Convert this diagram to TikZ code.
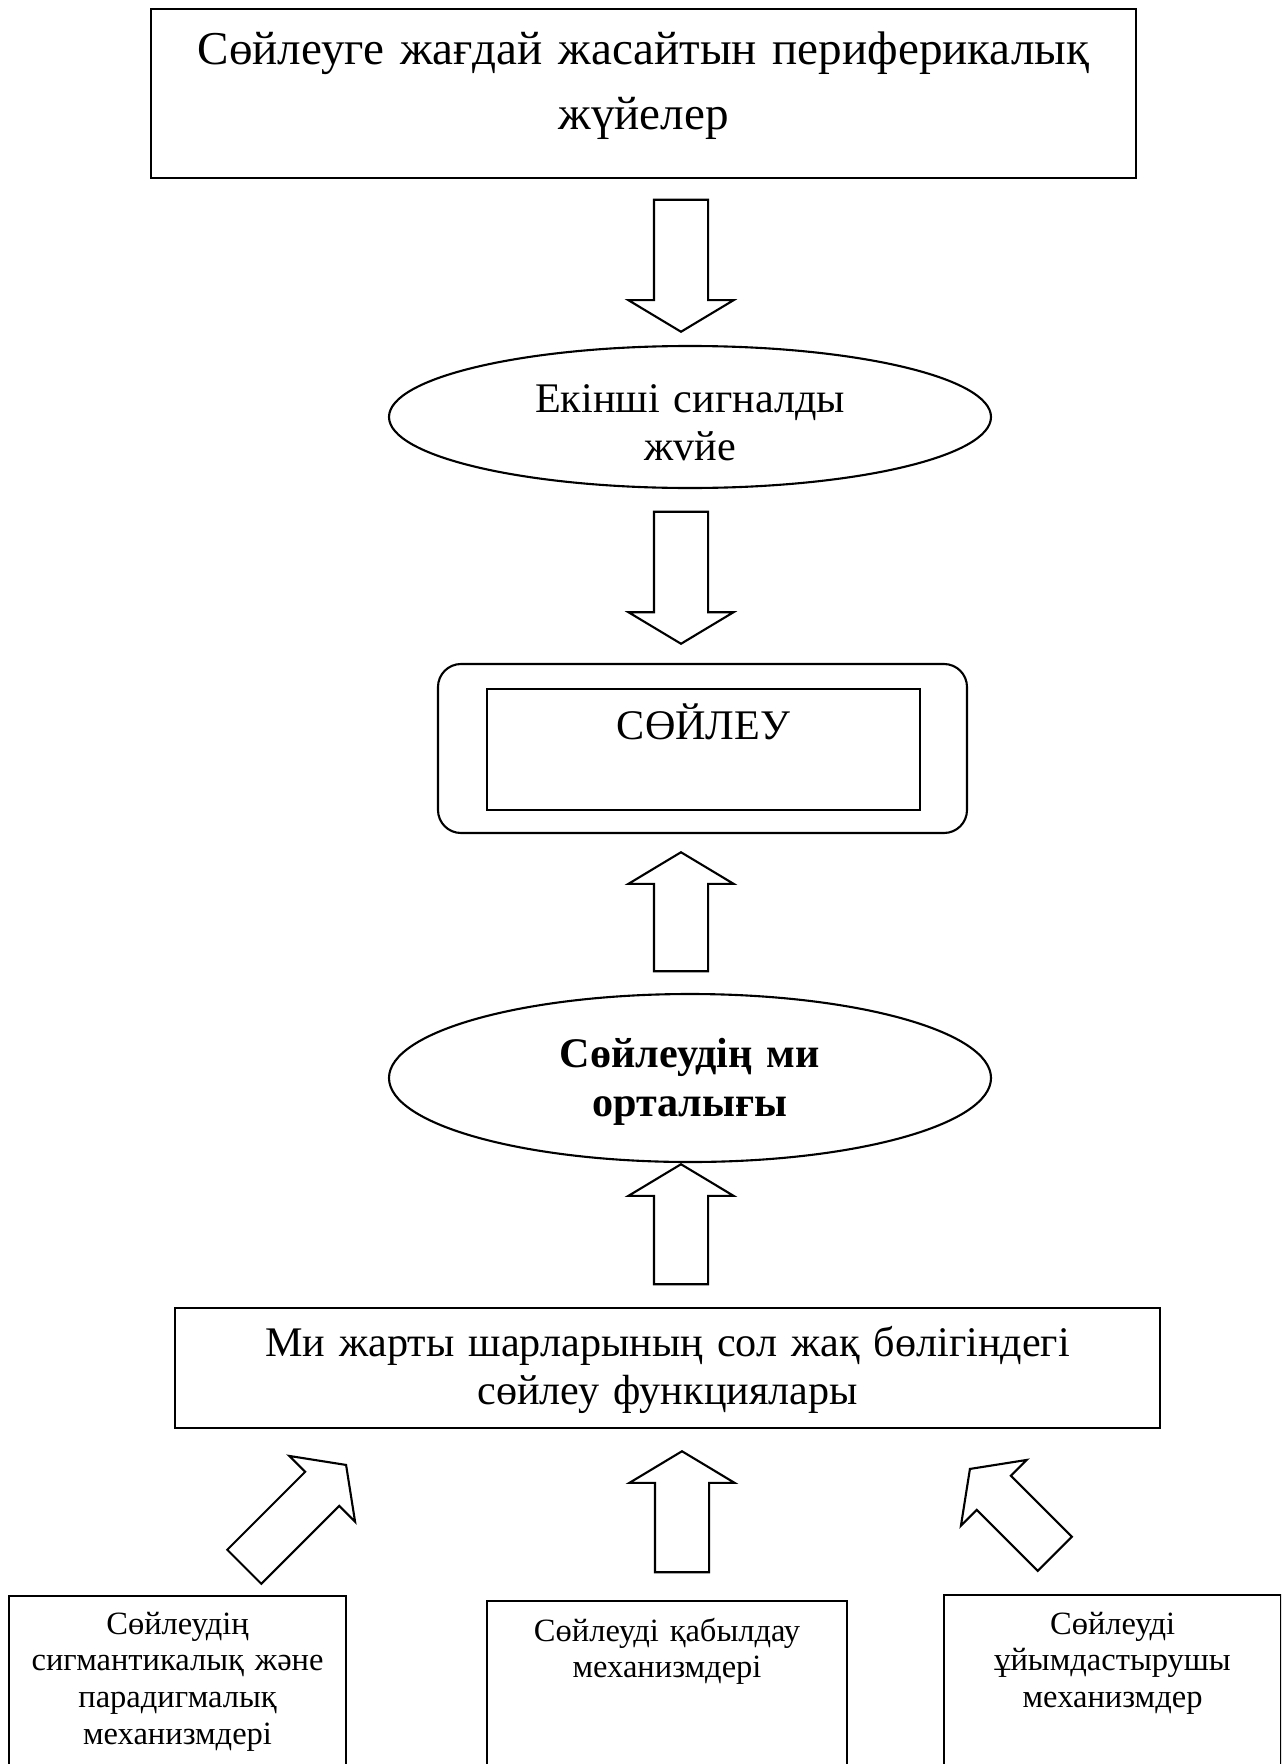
\documentclass[tikz,border=0pt]{standalone}
\usepackage{fontspec}
\setmainfont{Liberation Serif}
\usetikzlibrary{shapes.geometric,shapes.arrows}

\begin{document}
\begin{tikzpicture}[
    line width=0.6pt,
    plainbox/.style={draw, rectangle, inner sep=0pt, align=center, anchor=north west},
    oval/.style={draw, ellipse, inner sep=0pt, align=center, text width=4cm, minimum width=6.02cm},
    blockarr/.style={draw, single arrow, inner xsep=0pt, inner ysep=0.26cm, single arrow head extend=0.255cm, single arrow tip angle=118, anchor=tip},
    slantarr/.style={blockarr, inner ysep=0.23cm, single arrow head extend=0.225cm, single arrow tip angle=108},
    bigfont/.style={font=\fontsize{13.4}{18.5}\selectfont},
    midfont/.style={font=\fontsize{12}{13.7}\selectfont},
    smallfont/.style={font=\fontsize{9.25}{10.5}\selectfont}]
  \useasboundingbox (0,0) rectangle (12.81,-17.64);
  \clip (0,0) rectangle (12.81,-17.64);

  \node[plainbox, bigfont, text width=9.85cm, text height=0.55cm, text depth=1.14cm] (periph) at (1.50,-0.08)
    {Сөйлеуге жағдай жасайтын периферикалық\\жүйелер};
  \node[blockarr, rotate=-90, minimum height=1.32cm] (a1) at (6.81,-3.33) {};

  \node[oval, midfont, minimum height=1.42cm, text height=0.35cm, text depth=0.45cm] (signal) at (6.90,-4.17)
    {Екінші сигналды\\жvйе};
  \node[blockarr, rotate=-90, minimum height=1.32cm] (a2) at (6.81,-6.45) {};

  \node[draw, rounded corners=0.23cm, minimum width=5.29cm, minimum height=1.69cm] (speechout) at (7.025,-7.485) {};
  \node[plainbox, midfont, text width=4.33cm, text height=0.50cm, text depth=0.71cm] (speech) at (4.86,-6.88) {СӨЙЛЕУ};
  \node[blockarr, rotate=90, minimum height=1.19cm] (a3) at (6.81,-8.51) {};

  \node[oval, font=\fontsize{12}{14.2}\selectfont\bfseries, minimum height=1.68cm, text height=0.35cm, text depth=0.57cm] (centre) at (6.90,-10.78)
    {Сөйлеудің ми\\орталығы};
  \node[blockarr, rotate=90, minimum height=1.20cm] (a4) at (6.81,-11.63) {};

  \node[plainbox, midfont, text width=9.85cm, text height=0.48cm, text depth=0.72cm] (hemis) at (1.74,-13.07)
    {Ми жарты шарларының сол жақ бөлігіндегі\\сөйлеу функциялары};

  \node[slantarr, rotate=45, minimum height=1.44cm] (la) at (3.47,-14.64) {};
  \node[blockarr, rotate=90, minimum height=1.21cm] (a5) at (6.82,-14.50) {};
  \node[slantarr, rotate=135, minimum height=1.20cm] (ra) at (9.69,-14.68) {};

  \node[plainbox, smallfont, text width=3.37cm, text height=0.38cm, text depth=2.0cm] (semant) at (0.08,-15.95)
    {Сөйлеудің\\сигмантикалық және\\парадигмалық\\механизмдері};
  \node[plainbox, smallfont, text width=3.60cm, text height=0.40cm, text depth=2.0cm] (percep) at (4.86,-16.00)
    {Сөйлеуді қабылдау\\механизмдері};
  \node[plainbox, smallfont, text width=3.37cm, text height=0.39cm, text depth=2.0cm] (organ) at (9.43,-15.94)
    {Сөйлеуді\\ұйымдастырушы\\механизмдер};
\end{tikzpicture}
\end{document}
